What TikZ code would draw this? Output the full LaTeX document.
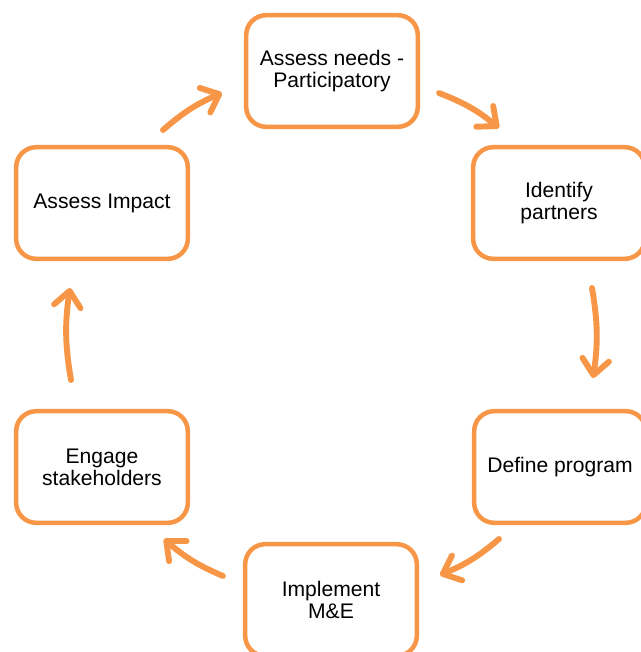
\documentclass[tikz,border=0pt]{standalone}
\usepackage{fontspec}
\setmainfont{Liberation Sans}
\usepackage{tikz}
\usetikzlibrary{positioning,arrows.meta}

\definecolor{cycleorange}{RGB}{247,150,70}

\tikzset{
  every stage/.style={draw=cycleorange, line width=3.2pt, fill=white,
    rounded corners=0.5cm, minimum width=4.29cm, minimum height=2.79cm,
    align=center, font=\fontsize{15}{15.6}\selectfont},
  cycle arrow/.style={draw=cycleorange, line width=4.2pt, line cap=round,
    ->, bend left=9}
}

\begin{document}
\begin{tikzpicture}[x=0.025cm, y=-0.025cm, >={Straight Barb[length=11pt, width=19pt, round]}]

\useasboundingbox (0,0) rectangle (640,652);

\foreach \txt/\x/\y [count=\i] in {
    {Assess needs -\\Participatory}/332/71,
    {Identify\\partners}/559/203,
    {Define program}/560/467,
    {Implement\\M\&E}/331/600,
    {Engage\\stakeholders}/102/467,
    {Assess Impact}/102/203}
  \node [every stage/.try] (stage-\i) at (\x,\y) {\txt};

% arrows between the stages
\foreach \sx/\sy/\ex/\ey [count=\i] in {439/93/499/128, 592/288/593/378,
    499/539/440/575, 223/576/164/539, 71/380/70/288, 163/130/222/93}
{
  \coordinate (from-\i) at (\sx,\sy);
  \coordinate (to-\i) at (\ex,\ey);
  \draw [cycle arrow] (from-\i) to (to-\i);
}
\end{tikzpicture}
\end{document}
